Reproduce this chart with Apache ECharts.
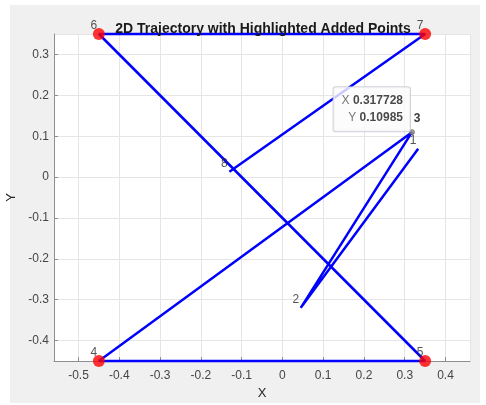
<!DOCTYPE html>
<html>
<head>
<meta charset="utf-8">
<script src="https://cdn.jsdelivr.net/npm/echarts@6/dist/echarts.min.js"></script>
<style>
html,body{margin:0;padding:0;background:#fff;}
#c{width:486px;height:405px;}
</style>
</head>
<body>
<div id="c"></div>
<script>
// Trajectory points in order 1..8
const xs = [0.333, 0.045, 0.317728, -0.45, 0.35, -0.45, 0.35, -0.13];
const ys = [0.069, -0.32, 0.10985, -0.45, -0.45, 0.35, 0.35, 0.013];
const pointLabels = ['1', '2', '3', '4', '5', '6', '7', '8'];
const addedIdx = [3, 4, 5, 6];      // highlighted added points (4..7)
const tipIdx = 2;                   // data tip on point 3
const tipX = '0.317728';
const tipY = '0.10985';
const xTickValues = [-0.5, -0.4, -0.3, -0.2, -0.1, 0, 0.1, 0.2, 0.3, 0.4];
const yTickValues = [-0.4, -0.3, -0.2, -0.1, 0, 0.1, 0.2, 0.3];

const pts = xs.map((x, i) => [x, ys[i]]);
const font = 'Liberation Sans, Arial, Helvetica, sans-serif';

function tickFmt(list) {
  return function (v) {
    for (const t of list) { if (Math.abs(v - t) < 1e-6) return String(t); }
    return '';
  };
}

const labelData = pts.map((p, i) => {
  const item = { value: p };
  if (i === tipIdx) {
    item.label = { fontWeight: 'bold', color: '#000', offset: [5, -13] };
  }
  return item;
});

const chart = echarts.init(document.getElementById('c'), null, { renderer: 'canvas' });
chart.setOption({
  animation: false,
  backgroundColor: '#ffffff',
  graphic: [{
    type: 'rect', z: -10, silent: true,
    shape: { x: 10, y: 5, width: 470, height: 398 },
    style: { fill: '#f0f0f0' }
  }],
  title: {
    text: '2D Trajectory with Highlighted Added Points',
    left: 258, top: 17, textAlign: 'center',
    textStyle: { fontFamily: font, fontSize: 14, fontWeight: 'bold', color: '#1a1a1a' }
  },
  grid: {
    left: 54, right: 16, top: 34, bottom: 44,
    containLabel: false, outerBoundsMode: 'none',
    show: true, backgroundColor: '#ffffff', borderWidth: 0
  },
  xAxis: {
    type: 'value', min: -0.56, max: 0.46, splitNumber: 10,
    name: 'X', nameLocation: 'middle', nameGap: 25,
    nameTextStyle: { fontFamily: font, fontSize: 13, color: '#262626' },
    axisLine: { show: true, onZero: false, lineStyle: { color: '#8f8f8f', width: 1 } },
    axisTick: { show: true, inside: true, length: 4, lineStyle: { color: '#8f8f8f' } },
    axisLabel: { formatter: tickFmt(xTickValues), margin: 9, fontFamily: font, fontSize: 12, color: '#454545', showMinLabel: false, showMaxLabel: false },
    splitLine: { show: true, lineStyle: { color: '#e5e5e5', width: 1 } }
  },
  yAxis: {
    type: 'value', min: -0.45, max: 0.35, splitNumber: 8,
    name: 'Y', nameLocation: 'middle', nameGap: 33, nameRotate: 90,
    nameTextStyle: { fontFamily: font, fontSize: 13, color: '#262626' },
    axisLine: { show: true, onZero: false, lineStyle: { color: '#8f8f8f', width: 1 } },
    axisTick: { show: true, inside: true, length: 4, lineStyle: { color: '#8f8f8f' } },
    axisLabel: { formatter: tickFmt(yTickValues), margin: 5, fontFamily: font, fontSize: 12, color: '#454545', showMinLabel: false, showMaxLabel: false },
    splitLine: { show: true, lineStyle: { color: '#e5e5e5', width: 1 } }
  },
  series: [
    {
      type: 'line', data: pts, showSymbol: false, symbol: 'none', clip: false,
      lineStyle: { color: '#0000ff', width: 2.5 }, z: 2
    },
    {
      type: 'scatter', data: addedIdx.map(i => pts[i]), symbol: 'circle', symbolSize: 12,
      itemStyle: { color: '#ff0000' }, clip: false, z: 3
    },
    {
      type: 'scatter', data: labelData, symbolSize: 0.1, clip: false, z: 5,
      itemStyle: { color: 'rgba(0,0,0,0)' },
      label: {
        show: true, position: 'inside', offset: [-5, -8],
        formatter: p => pointLabels[p.dataIndex],
        fontFamily: font, fontSize: 12, color: '#2b2b2b'
      }
    },
    {
      type: 'scatter', data: [pts[tipIdx]], symbol: 'circle', symbolSize: 5, clip: false, z: 6,
      itemStyle: { color: '#8c8c8c', borderColor: '#505050', borderWidth: 0.8 },
      label: {
        show: true, position: 'inside', align: 'right', verticalAlign: 'bottom', offset: [-2, -1],
        formatter: '{a|X} {b|' + tipX + '}\n{a|Y} {b|' + tipY + '}',
        backgroundColor: '#fbfbfd', borderColor: '#c6c6cf', borderWidth: 1, borderRadius: 2,
        padding: [5, 7, 5, 8],
        rich: {
          a: { fontFamily: font, fontSize: 12, color: '#555555', lineHeight: 17 },
          b: { fontFamily: font, fontSize: 12, fontWeight: 'bold', color: '#1a1a1a', lineHeight: 17 }
        }
      }
    }
  ]
});
</script>
</body>
</html>
